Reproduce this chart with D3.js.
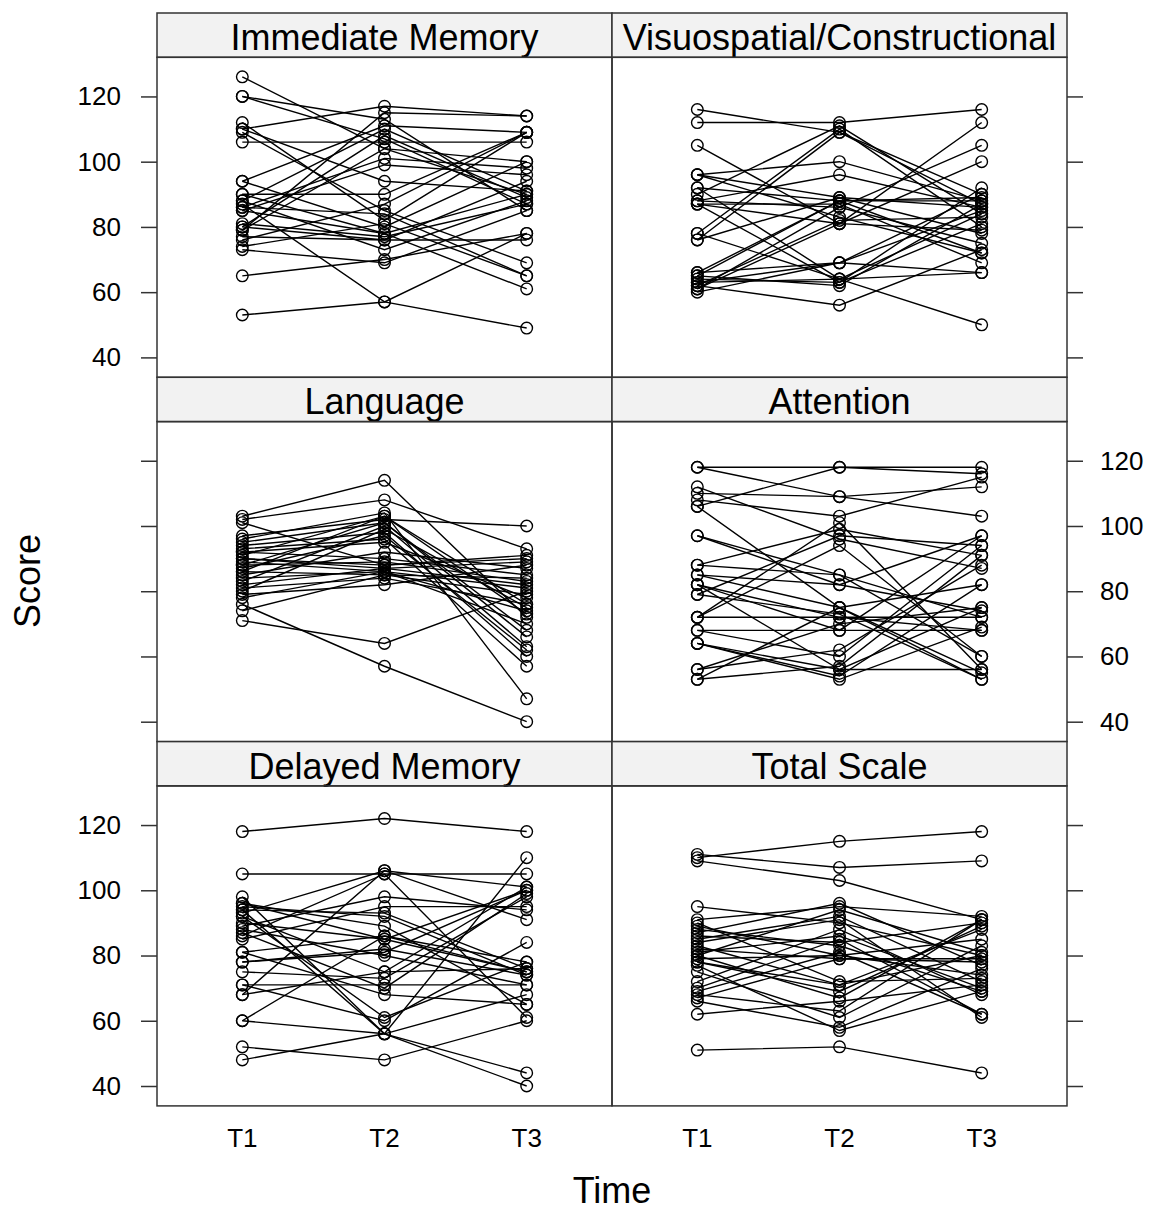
<!DOCTYPE html>
<html>
<head>
<meta charset="utf-8">
<script src="https://cdn.jsdelivr.net/npm/d3@7"></script>
<style>
  html, body { margin: 0; padding: 0; background: #fff; }
  svg { display: block; font-family: "Liberation Sans", Arial, sans-serif; }
</style>
</head>
<body>
<svg id="chart" width="1152" height="1210"></svg>
<script>
// Time points on the x axis
const times = ["T1", "T2", "T3"];
const yTicks = [40, 60, 80, 100, 120];

// One row per subject: scores at T1, T2, T3
const immediateMemory = [
  [126, 104, 90], [120, 107, 87], [120, 113, 85], [112, 82, 109], [110, 117, 114],
  [109, 85, 69], [106, 106, 106], [94, 111, 109], [94, 80, 100], [90, 90, 109],
  [90, 78, 90], [88, 110, 91], [87, 57, 49], [86, 101, 98], [86, 84, 65],
  [85, 99, 96], [85, 78, 61], [81, 77, 87], [80, 76, 94], [80, 108, 89],
  [79, 104, 100], [77, 76, 76], [76, 87, 109], [74, 81, 65], [73, 69, 85],
  [65, 70, 78], [53, 57, 78], [110, 94, 91], [88, 73, 88], [79, 115, 114]
];
const visuospatial = [
  [116, 109, 87], [112, 112, 116], [105, 81, 112], [96, 100, 88], [96, 83, 72],
  [92, 88, 89], [92, 64, 84], [90, 111, 84], [88, 96, 86], [88, 86, 105],
  [87, 81, 100], [87, 87, 69], [87, 63, 92], [78, 110, 80], [78, 64, 66],
  [76, 89, 78], [76, 109, 90], [66, 69, 85], [65, 88, 72], [64, 63, 81],
  [63, 64, 50], [62, 56, 73], [61, 86, 75], [60, 69, 90], [65, 62, 87],
  [62, 82, 83], [66, 88, 88], [63, 69, 66], [61, 81, 79], [96, 89, 86]
];
const language = [
  [103, 114, 72], [102, 108, 93], [101, 88, 91], [97, 102, 100], [96, 104, 47],
  [95, 101, 66], [94, 98, 60], [93, 96, 57], [92, 90, 85], [91, 103, 76],
  [90, 87, 82], [90, 88, 90], [89, 86, 74], [88, 101, 68], [88, 89, 83],
  [87, 97, 62], [86, 85, 79], [85, 92, 87], [84, 86, 81], [83, 100, 63],
  [82, 87, 89], [81, 84, 76], [80, 99, 75], [79, 82, 88], [78, 86, 70],
  [76, 57, 40], [74, 85, 84], [71, 64, 80], [92, 95, 78], [86, 103, 73]
];
const attention = [
  [118, 109, 103], [112, 96, 87], [110, 109, 112], [108, 103, 115], [106, 118, 118],
  [97, 85, 72], [88, 99, 91], [85, 82, 97], [82, 72, 68], [79, 97, 94],
  [72, 101, 56], [72, 72, 72], [68, 68, 68], [64, 54, 82], [56, 62, 88],
  [53, 57, 91], [85, 75, 55], [82, 56, 75], [79, 73, 53], [72, 94, 60],
  [68, 60, 94], [64, 56, 56], [56, 70, 75], [53, 75, 82], [64, 53, 69],
  [88, 85, 60], [106, 75, 53], [82, 68, 97], [97, 82, 74], [118, 118, 116]
];
const delayedMemory = [
  [118, 122, 118], [105, 105, 105], [98, 56, 44], [96, 85, 100], [95, 92, 74],
  [94, 56, 40], [93, 106, 91], [92, 75, 101], [90, 85, 75], [89, 98, 94],
  [88, 80, 71], [87, 70, 99], [85, 95, 95], [81, 86, 78], [81, 68, 65],
  [78, 81, 100], [75, 73, 98], [71, 71, 71], [71, 60, 84], [68, 75, 76],
  [60, 56, 110], [60, 86, 75], [52, 48, 60], [48, 56, 68], [94, 93, 76],
  [92, 61, 78], [86, 105, 61], [96, 89, 65], [78, 82, 74], [68, 106, 101]
];
const totalScale = [
  [110, 115, 118], [111, 107, 109], [109, 103, 91], [95, 90, 80], [91, 95, 92],
  [89, 80, 85], [87, 96, 77], [86, 84, 90], [85, 92, 72], [83, 71, 88],
  [82, 79, 79], [81, 86, 70], [80, 94, 81], [79, 80, 74], [78, 69, 89],
  [77, 57, 69], [72, 88, 68], [70, 85, 62], [68, 63, 91], [67, 79, 78],
  [66, 58, 76], [62, 66, 71], [51, 52, 44], [84, 91, 61], [78, 71, 80],
  [69, 81, 62], [90, 72, 73], [75, 61, 83], [80, 67, 91], [88, 83, 69]
];

// Panels in reading order (row by row, left to right)
const panelTitles = ["Immediate Memory", "Visuospatial/Constructional", "Language",
                     "Attention", "Delayed Memory", "Total Scale"];
const panelData = [immediateMemory, visuospatial, language, attention, delayedMemory, totalScale];

// Layout
const gridLeft = 157, gridTop = 13;
const colW = 455, stripH = 44.3, panelH = 320;
const frameColor = "#333";

const svg = d3.select("#chart");

const x = d3.scalePoint().domain(times).range([0, colW]).padding(0.6);
const y = d3.scaleLinear().domain([33.9, 132.0]).range([panelH, 0]);
const line = d3.line().x((d, i) => x(times[i])).y(d => y(d));

function styleAxis(a) {
  a.select(".domain").remove();
  a.selectAll(".tick line").attr("stroke", frameColor).attr("stroke-width", 1.5);
  a.selectAll(".tick text").attr("font-size", 26).attr("fill", "#000")
    .attr("font-family", "Liberation Sans, Arial, sans-serif");
}

panelTitles.forEach((title, k) => {
  const row = Math.floor(k / 2), col = k % 2;
  const gx = gridLeft + col * colW;
  const gy = gridTop + row * (stripH + panelH);
  const g = svg.append("g").attr("transform", `translate(${gx},${gy})`);

  // strip
  g.append("rect").attr("width", colW).attr("height", stripH)
    .attr("fill", "#f2f2f2").attr("stroke", frameColor).attr("stroke-width", 1.5);
  g.append("text").attr("x", colW / 2).attr("y", 37)
    .attr("text-anchor", "middle").attr("font-size", 36).attr("fill", "#000")
    .text(title);

  // panel
  const p = g.append("g").attr("transform", `translate(0,${stripH})`);

  const subjects = panelData[k];
  p.append("g").selectAll("path").data(subjects).join("path")
    .attr("d", line).attr("fill", "none").attr("stroke", "#000").attr("stroke-width", 1.4);
  p.append("g").selectAll("g").data(subjects).join("g")
    .selectAll("circle").data(d => d).join("circle")
    .attr("cx", (d, i) => x(times[i])).attr("cy", d => y(d)).attr("r", 5.8)
    .attr("fill", "none").attr("stroke", "#000").attr("stroke-width", 1.4);

  p.append("rect").attr("width", colW).attr("height", panelH)
    .attr("fill", "none").attr("stroke", frameColor).attr("stroke-width", 1.5);

  // y axes: labels alternate between the left and right side by row
  const labelLeft = row !== 1;
  if (col === 0) {
    const ax = d3.axisLeft(y).tickValues(yTicks).tickSize(16).tickPadding(20)
      .tickFormat(labelLeft ? d3.format("d") : () => "");
    styleAxis(p.append("g").call(ax));
  } else {
    const ax = d3.axisRight(y).tickValues(yTicks).tickSize(16).tickPadding(17)
      .tickFormat(!labelLeft ? d3.format("d") : () => "");
    styleAxis(p.append("g").attr("transform", `translate(${colW},0)`).call(ax));
  }

  // x labels under the bottom row
  if (row === 2) {
    p.append("g").selectAll("text").data(times).join("text")
      .attr("x", d => x(d)).attr("y", panelH + 41)
      .attr("text-anchor", "middle").attr("font-size", 26).attr("fill", "#000")
      .text(d => d);
  }
});

// axis titles
svg.append("text").attr("x", gridLeft + colW).attr("y", 1203)
  .attr("text-anchor", "middle").attr("font-size", 36).attr("fill", "#000").text("Time");
svg.append("text")
  .attr("transform", "translate(40,581) rotate(-90)")
  .attr("text-anchor", "middle").attr("font-size", 36).attr("fill", "#000").text("Score");
</script>
</body>
</html>
